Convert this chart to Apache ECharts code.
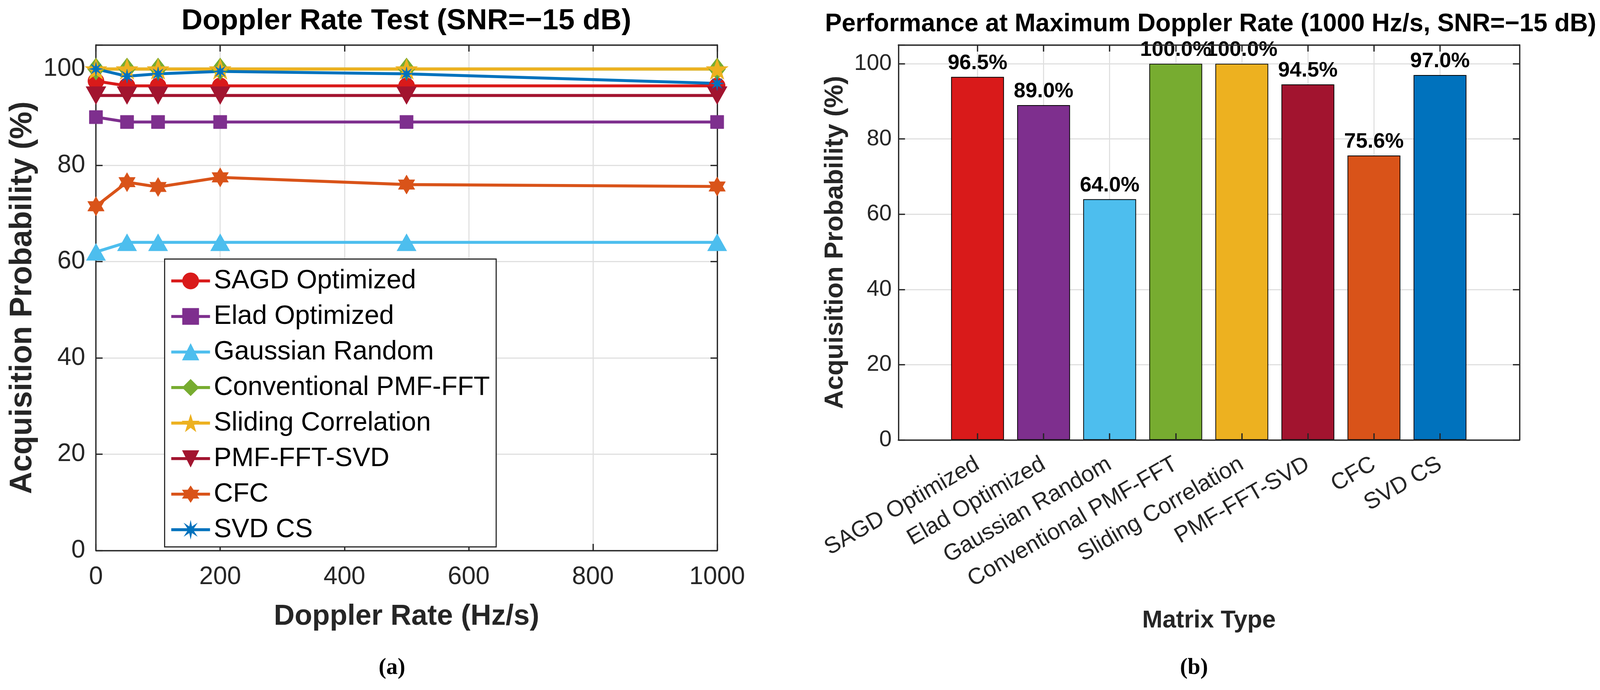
<!DOCTYPE html>
<html>
<head>
<meta charset="utf-8">
<script src="https://cdn.jsdelivr.net/npm/echarts@6.0.0/dist/echarts.min.js"></script>
<style>html,body{margin:0;padding:0;background:#fff;overflow:hidden}#c{width:100vw;height:100vh}</style>
</head>
<body>
<div id="c"></div>
<script>
// ---- data ----
const dopplerRates = [0, 50, 100, 200, 500, 1000];
const methodNames = ['SAGD Optimized', 'Elad Optimized', 'Gaussian Random', 'Conventional PMF-FFT',
  'Sliding Correlation', 'PMF-FFT-SVD', 'CFC', 'SVD CS'];
const sagdValues = [97.5, 96.5, 96.5, 96.5, 96.5, 96.5];
const eladValues = [90.0, 89.0, 89.0, 89.0, 89.0, 89.0];
const gaussianValues = [62.0, 64.0, 64.0, 64.0, 64.0, 64.0];
const conventionalValues = [100, 100, 100, 100, 100, 100];
const slidingValues = [100, 100, 100, 100, 100, 100];
const pmfSvdValues = [94.5, 94.5, 94.5, 94.5, 94.5, 94.5];
const cfcValues = [71.5, 76.5, 75.5, 77.5, 76.0, 75.6];
const svdCsValues = [100, 98.5, 99.0, 99.5, 99.0, 97.0];
const maxRateValues = [96.5, 89.0, 64.0, 100.0, 100.0, 94.5, 75.6, 97.0];

// ---- layout scale (design space is 4335 x 1766) ----
const SX = (window.innerWidth || 4335) / 4335;
const SY = (window.innerHeight || 1766) / 1766;
const SF = Math.min(SX, SY);
const X = v => v * SX;   // horizontal distances
const Y = v => v * SY;   // vertical distances
const P = v => v * SF;   // font sizes, strokes, symbols

// ---- styles ----
const F = 'Liberation Sans, Arial, Helvetica, sans-serif';
const SERIF = 'Liberation Serif, Times New Roman, serif';
const colors = ['#D91A1A', '#7E2F8E', '#4DBEEE', '#77AC30', '#EDB120', '#A2142F', '#D95319', '#0072BD'];
const PENTAGRAM = 'path://M50,0L61.8,35.4L100,35.4L69.1,57.3L80.9,93.3L50,71.4L19.1,93.3L30.9,57.3L0,35.4L38.2,35.4Z';
const HEXAGRAM = 'path://M50,0L64.43,25L93.3,25L78.87,50L93.3,75L64.43,75L50,100L35.57,75L6.7,75L21.13,50L6.7,25L35.57,25Z';
const ASTERISK = 'path://M50,0L56.89,33.37L85.36,14.64L66.63,43.11L100,50L66.63,56.89L85.36,85.36L56.89,66.63L50,100L43.11,66.63L14.64,85.36L33.37,56.89L0,50L33.37,43.11L14.64,14.64L43.11,33.37Z';
const lineDefs = [
  { data: sagdValues, symbol: 'circle', size: [44, 44] },
  { data: eladValues, symbol: 'rect', size: [36, 36] },
  { data: gaussianValues, symbol: 'triangle', size: [52, 46] },
  { data: conventionalValues, symbol: 'diamond', size: [46, 60] },
  { data: slidingValues, symbol: PENTAGRAM, size: [60, 60] },
  { data: pmfSvdValues, symbol: 'triangle', size: [54, 48], rot: 180 },
  { data: cfcValues, symbol: HEXAGRAM, size: [52, 52] },
  { data: svdCsValues, symbol: ASTERISK, size: [38, 38] }
];
const frameLine = { color: '#262626', width: P(3.5) };
const gridLine = { color: '#e0e0e0', width: P(3) };
const tickStyle = { show: true, inside: true, length: P(18), lineStyle: frameLine };
const tickFmt = v => (v % 20 === 0 ? String(v) : '');

const series = lineDefs.map((d, i) => ({
  type: 'line', name: methodNames[i], xAxisIndex: 0, yAxisIndex: 0,
  data: dopplerRates.map((x, k) => [x, d.data[k]]),
  symbol: d.symbol, symbolSize: [P(d.size[0]), P(d.size[1])], symbolRotate: d.rot || 0, symbolKeepAspect: true,
  showAllSymbol: true, clip: false,
  lineStyle: { color: colors[i], width: P(8) },
  itemStyle: { color: colors[i], borderColor: colors[i], borderWidth: P(1) },
  emphasis: { disabled: true }
}));
series.push({
  type: 'bar', xAxisIndex: 4, yAxisIndex: 4,
  data: maxRateValues.map((v, i) => ({ value: v, itemStyle: { color: colors[i] } })),
  barWidth: '80%',
  itemStyle: { borderColor: '#000', borderWidth: P(2) },
  label: { show: true, position: 'top', distance: Y(8), formatter: p => p.value.toFixed(1) + '%',
    fontSize: P(57), fontWeight: 'bold', color: '#000', fontFamily: F },
  emphasis: { disabled: true }
});

const captionStyle = {
  fontSize: P(62), color: '#000', fontFamily: SERIF,
  rich: { b: { fontSize: P(62), fontWeight: 'bold', color: '#000', fontFamily: SERIF } }
};
const legendFont = P(72);

const option = {
  backgroundColor: '#fff',
  animation: false,
  title: [
    { text: 'Doppler Rate Test (SNR=\u221215 dB)', left: X(1101), top: Y(17), textAlign: 'center', padding: 0,
      textStyle: { fontSize: P(79), fontWeight: 'bold', color: '#000', fontFamily: F } },
    { text: 'Performance at Maximum Doppler Rate (1000 Hz/s, SNR=\u221215 dB)', left: X(3280), top: Y(30), textAlign: 'center', padding: 0,
      textStyle: { fontSize: P(68), fontWeight: 'bold', color: '#000', fontFamily: F } },
    { text: '({b|a})', left: X(1062), top: Y(1680), textAlign: 'center', padding: 0, textStyle: captionStyle },
    { text: '({b|b})', left: X(3235), top: Y(1680), textAlign: 'center', padding: 0, textStyle: captionStyle }
  ],
  legend: {
    data: methodNames, orient: 'vertical', left: X(446), top: Y(663),
    itemWidth: X(105), itemHeight: P(54), itemGap: Math.max(0, Y(91) - legendFont),
    padding: [Y(56) - legendFont / 2, X(17), Y(44) - legendFont / 2, X(14)],
    backgroundColor: '#fff', borderColor: '#262626', borderWidth: P(3), borderRadius: 0,
    selectedMode: false,
    lineStyle: { width: P(8) },
    textStyle: { fontSize: legendFont, color: '#000', fontFamily: F, padding: [0, 0, 0, X(5)] }
  },
  grid: [
    { left: X(260), top: Y(115), width: X(1683), height: Y(1294), outerBoundsMode: 'none' },
    { left: X(2434), top: Y(115), width: X(1683), height: Y(1011), outerBoundsMode: 'none' },
    { left: X(2559), top: Y(115), width: X(1432), height: Y(1011), outerBoundsMode: 'none' }
  ],
  xAxis: [
    { gridIndex: 0, type: 'value', min: 0, max: 1000, interval: 200, position: 'bottom',
      axisLine: { show: true, onZero: false, lineStyle: frameLine }, axisTick: tickStyle,
      axisLabel: { margin: Y(36), fontSize: P(68), color: '#262626', fontFamily: F, formatter: v => String(v) },
      splitLine: { show: true, lineStyle: gridLine },
      name: 'Doppler Rate (Hz/s)', nameLocation: 'middle', nameGap: Y(133), nameMoveOverlap: false,
      nameTextStyle: { fontSize: P(78), fontWeight: 'bold', color: '#262626', fontFamily: F } },
    { gridIndex: 0, type: 'value', min: 0, max: 1000, interval: 200, position: 'top',
      axisLine: { show: true, onZero: false, lineStyle: frameLine }, axisTick: tickStyle,
      axisLabel: { show: false }, splitLine: { show: false } },
    { gridIndex: 1, type: 'value', min: 0, max: 1, position: 'bottom', z: 5,
      axisLine: { show: true, onZero: false, lineStyle: frameLine }, axisTick: { show: false },
      axisLabel: { show: false }, splitLine: { show: false },
      name: 'Matrix Type', nameLocation: 'middle', nameGap: Y(432), nameMoveOverlap: false,
      nameTextStyle: { fontSize: P(66), fontWeight: 'bold', color: '#262626', fontFamily: F } },
    { gridIndex: 1, type: 'value', min: 0, max: 1, position: 'top', z: 5,
      axisLine: { show: true, onZero: false, lineStyle: frameLine }, axisTick: { show: false },
      axisLabel: { show: false }, splitLine: { show: false } },
    { gridIndex: 2, type: 'category', data: methodNames, position: 'bottom', z: 5,
      axisLine: { show: false, onZero: false },
      axisTick: { show: true, inside: true, alignWithLabel: true, length: P(18), lineStyle: frameLine },
      axisLabel: { rotate: 30, margin: Y(58), interval: 0, fontSize: P(62), color: '#262626', fontFamily: F },
      splitLine: { show: false } },
    { gridIndex: 2, type: 'category', data: methodNames, position: 'top', z: 0,
      axisLine: { show: false, onZero: false },
      axisTick: { show: true, inside: true, alignWithLabel: true, length: P(18), lineStyle: frameLine },
      axisLabel: { show: false },
      splitLine: { show: true, alignWithLabel: true, lineStyle: gridLine } }
  ],
  yAxis: [
    { gridIndex: 0, type: 'value', min: 0, max: 105, interval: 20, position: 'left',
      axisLine: { show: true, onZero: false, lineStyle: frameLine }, axisTick: tickStyle,
      axisLabel: { margin: X(29), fontSize: P(68), color: '#262626', fontFamily: F, formatter: tickFmt },
      splitLine: { show: true, lineStyle: gridLine },
      name: 'Acquisition Probability (%)', nameLocation: 'middle', nameGap: X(157), nameMoveOverlap: false,
      nameTextStyle: { fontSize: Y(79), fontWeight: 'bold', color: '#262626', fontFamily: F } },
    { gridIndex: 0, type: 'value', min: 0, max: 105, interval: 20, position: 'right',
      axisLine: { show: true, onZero: false, lineStyle: frameLine }, axisTick: tickStyle,
      axisLabel: { show: false }, splitLine: { show: false } },
    { gridIndex: 1, type: 'value', min: 0, max: 105, interval: 20, position: 'left',
      axisLine: { show: true, onZero: false, lineStyle: frameLine }, axisTick: tickStyle,
      axisLabel: { margin: X(18), fontSize: P(61), color: '#262626', fontFamily: F, formatter: tickFmt },
      splitLine: { show: true, lineStyle: gridLine },
      name: 'Acquisition Probability (%)', nameLocation: 'middle', nameGap: X(135), nameMoveOverlap: false,
      nameTextStyle: { fontSize: Y(67), fontWeight: 'bold', color: '#262626', fontFamily: F } },
    { gridIndex: 1, type: 'value', min: 0, max: 105, interval: 20, position: 'right',
      axisLine: { show: true, onZero: false, lineStyle: frameLine }, axisTick: tickStyle,
      axisLabel: { show: false }, splitLine: { show: false } },
    { gridIndex: 2, type: 'value', min: 0, max: 105, show: false }
  ],
  series: series
};

const chart = echarts.init(document.getElementById('c'), null, { renderer: 'canvas' });
chart.setOption(option);
</script>
</body>
</html>
